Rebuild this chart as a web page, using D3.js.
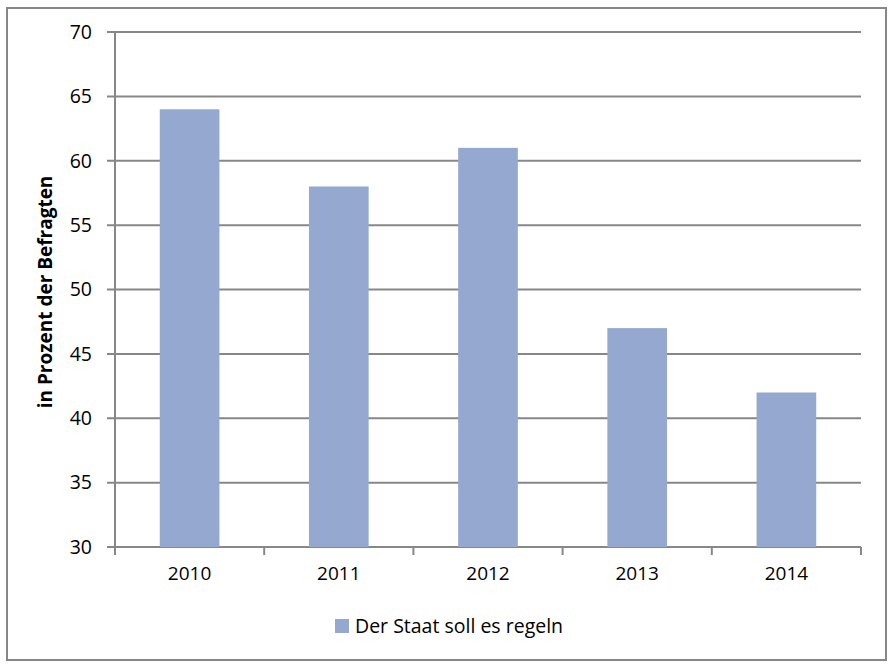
<!DOCTYPE html>
<html><head><meta charset="utf-8">
<script src="https://cdn.jsdelivr.net/npm/d3@7"></script>
<style>body{margin:0;background:#fff}svg{display:block}text{font-family:"Open Sans",sans-serif;fill:#000}</style>
</head><body><svg id="c" width="895" height="665"></svg>
<script>
const categories = ["2010","2011","2012","2013","2014"];
const values = [64, 58, 61, 47, 42];
const yTicks = [30,35,40,45,50,55,60,65,70];
const seriesName = "Der Staat soll es regeln";
const yTitle = "in Prozent der Befragten";

const svg = d3.select("#c");
const color = "#95a9d0", gray = "#878787";
svg.append("rect").attr("x",7).attr("y",8).attr("width",879).attr("height",652)
  .attr("fill","#fff").attr("stroke",gray).attr("stroke-width",2);

const L=115, R=861, T=32, B=547;
const x = d3.scaleBand().domain(categories).range([L,R]).paddingInner(0.6).paddingOuter(0.3);
const y = d3.scaleLinear().domain([30,70]).range([B,T]);

// gridlines
svg.append("g").selectAll("line").data(yTicks).join("line")
  .attr("x1",L-8).attr("x2",R).attr("y1",d=>y(d)).attr("y2",d=>y(d))
  .attr("stroke",gray).attr("stroke-width",2);

// bars
svg.append("g").selectAll("rect").data(values).join("rect")
  .attr("x",(d,i)=>x(categories[i])).attr("width",x.bandwidth())
  .attr("y",d=>y(d)).attr("height",d=>y(30)-y(d)).attr("fill",color);

// y axis
const ya = svg.append("g").attr("transform",`translate(${L},0)`)
  .call(d3.axisLeft(y).tickValues(yTicks).tickSize(0).tickPadding(23));
ya.select(".domain").remove();
ya.attr("font-size",null).attr("font-family",null);
ya.selectAll("text").style("font-size","19.5px").style("font-family","'Open Sans'");
svg.append("line").attr("x1",L).attr("x2",L).attr("y1",T).attr("y2",B+1).attr("stroke",gray).attr("stroke-width",2);

// x axis
const xa = svg.append("g").attr("transform",`translate(0,${B})`)
  .call(d3.axisBottom(x).tickSize(0).tickPadding(20));
xa.select(".domain").remove();
xa.attr("font-size",null).attr("font-family",null);
xa.selectAll("text").style("font-size","19px").style("font-family","'Open Sans'");
const step = x.step();
const bounds = d3.range(categories.length+1).map(i=>L+i*step);
svg.append("g").selectAll("line").data(bounds).join("line")
  .attr("x1",d=>d).attr("x2",d=>d).attr("y1",B).attr("y2",B+8)
  .attr("stroke",gray).attr("stroke-width",2);

// y title
svg.append("text").attr("transform","translate(52,292) rotate(-90)")
  .attr("text-anchor","middle").style("font-size","19px").attr("font-weight","bold").text(yTitle);

// legend
svg.append("rect").attr("x",335).attr("y",619).attr("width",14).attr("height",14).attr("fill",color);
svg.append("text").attr("x",355).attr("y",633).style("font-size","19.5px").text(seriesName);
</script></body></html>
